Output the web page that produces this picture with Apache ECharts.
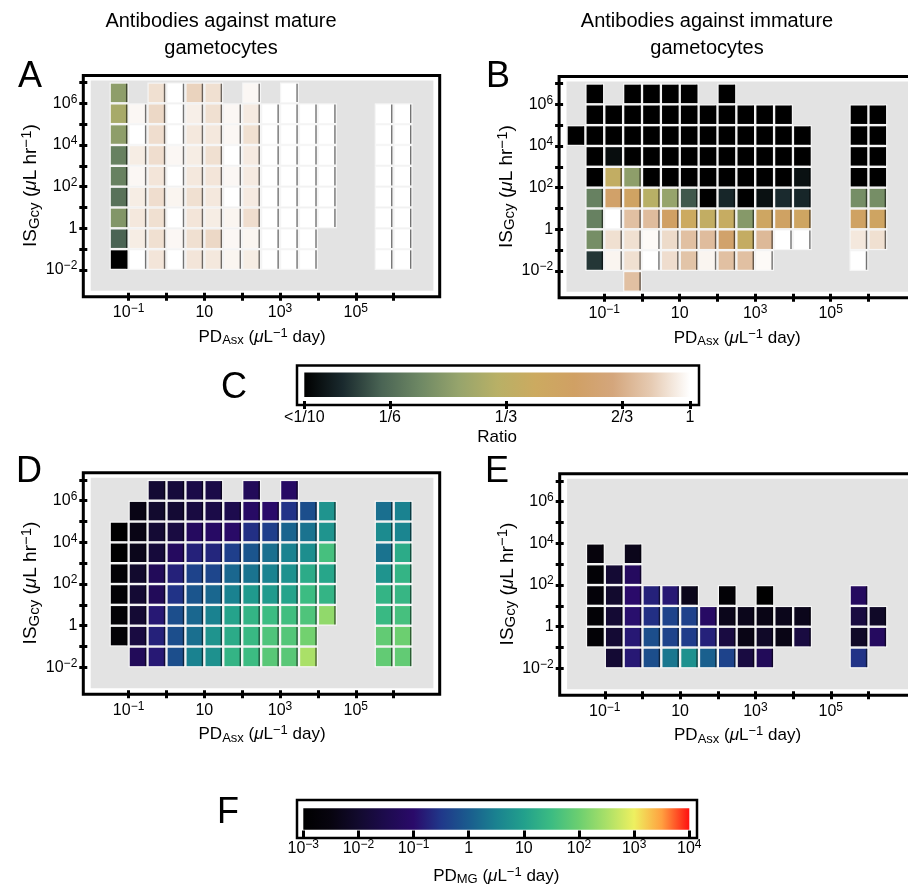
<!DOCTYPE html>
<html>
<head>
<meta charset="utf-8">
<title>Antibody heatmaps</title>
<script src="https://cdn.jsdelivr.net/npm/echarts@6/dist/echarts.min.js"></script>
<style>
  html, body { margin: 0; padding: 0; background: #fff; }
  #chart { width: 908px; height: 887px; }
</style>
</head>
<body>
<div id="chart"></div>
<script>
const _ = null;

// column centres: log10 PD_Asx, half-decade bins
const logPD = [-1.75, -1.25, -0.75, -0.25, 0.25, 0.75, 1.25, 1.75, 2.25, 2.75, 3.25, 3.75, 4.25, 4.75, 5.25, 5.75, 6.25];
// row centres: log10 IS_Gcy, top row first
const logIS = [6.5, 5.5, 4.5, 3.5, 2.5, 1.5, 0.5, -0.5, -1.5, -2.5];

// A: log10 ratio, antibodies against mature gametocytes
const ratioMature = [
  [_, -0.62, _, -0.06, 0, -0.085, -0.06, _, -0.015, _, 0, _, _, _, _, _, _],
  [_, -0.55, -0.015, -0.075, 0, -0.03, -0.06, -0.015, -0.04, 0, 0, 0, 0, _, _, 0, 0],
  [_, -0.62, 0, -0.065, 0, -0.045, -0.045, -0.015, -0.06, 0, 0, 0, 0, _, _, 0, 0],
  [_, -0.72, -0.035, -0.065, -0.015, -0.035, -0.06, 0, -0.04, 0, 0, 0, 0, _, _, 0, 0],
  [_, -0.72, -0.015, -0.05, 0, -0.045, -0.05, -0.015, -0.04, 0, 0, 0, 0, _, _, 0, 0],
  [_, -0.76, -0.035, -0.065, -0.02, -0.06, -0.045, 0, -0.04, 0, 0, 0, 0, _, _, 0, 0],
  [_, -0.65, -0.045, -0.06, 0, -0.05, -0.035, -0.02, -0.065, 0, 0, 0, 0, _, _, 0, 0],
  [_, -0.80, -0.035, -0.06, -0.015, -0.06, -0.075, -0.015, -0.02, 0, 0, 0, _, _, _, 0, 0],
  [_, -1.00, 0, -0.05, 0, -0.05, -0.045, -0.02, -0.035, 0, 0, 0, _, _, _, 0, 0],
  [_, _, _, _, _, _, _, _, _, _, _, _, _, _, _, _, _]
];

// B: log10 ratio, antibodies against immature gametocytes
const ratioImmature = [
  [_, -1, _, -1, -1, -1, -1, _, -1, _, _, _, _, _, _, _, _],
  [_, -1, -1, -1, -1, -1, -1, -1, -1, -1, -1, -1, _, _, _, -1, -1],
  [-1, -1, -1, -1, -1, -1, -1, -1, -1, -1, -1, -1, -1, _, _, -1, -1],
  [_, -1, -0.97, -1, -1, -1, -1, -1, -1, -1, -1, -1, -1, _, _, -1, -1],
  [_, -1, -0.45, -0.62, -1, -1, -1, -1, -1, -1, -1, -1, -0.96, _, _, -1, -1],
  [_, -0.72, -0.28, -0.33, -0.5, -0.6, -0.82, -1, -0.91, -1, -0.96, -0.9, -0.91, _, _, -0.68, -0.68],
  [_, -0.72, 0, -0.13, -0.14, -0.3, -0.4, -0.45, -0.43, -0.64, -0.36, -0.32, -0.35, _, _, -0.32, -0.34],
  [_, -0.68, -0.06, -0.06, -0.01, -0.07, -0.13, -0.14, -0.27, -0.44, -0.15, 0, 0, _, _, -0.045, -0.06],
  [_, -0.88, -0.02, -0.06, 0, -0.065, -0.12, -0.02, -0.13, -0.13, -0.01, _, _, _, _, 0, _],
  [_, _, _, -0.13, _, _, _, _, _, _, _, _, _, _, _, _, _]
];

// D: log10 PD_MG, antibodies against mature gametocytes
const pdMature = [
  [_, _, _, -1.9, -1.8, -1.6, -1.6, _, -1.3, _, -1.1, _, _, _, _, _, _],
  [_, _, -2.4, -2.0, -1.9, -1.7, -1.6, -1.5, -1.1, -1.0, -0.55, -0.2, 0.8, _, _, 0.25, 0.5],
  [_, -3, -2.4, -1.9, -1.7, -1.2, -1.1, -1.05, -0.6, -0.4, 0.1, 0.3, 0.8, _, _, 0.65, 0.55],
  [_, -3, -2.3, -1.8, -1.2, -0.75, -0.7, -0.4, -0.1, 0.25, 0.5, 0.7, 1.6, _, _, 0.3, 1.2],
  [_, -2.8, -2.0, -1.3, -0.75, -0.35, -0.3, 0.15, 0.3, 0.5, 0.75, 1.2, 1.1, _, _, 0.8, 1.35],
  [_, -2.8, -1.9, -1.3, -0.55, -0.1, 0.15, 0.5, 0.9, 0.9, 1.05, 1.5, 1.35, _, _, 1.35, 1.4],
  [_, -2.8, -1.9, -0.85, -0.2, 0.15, 0.5, 1.05, 1.35, 1.5, 1.55, 1.7, 2.3, _, _, 1.45, 1.6],
  [_, -2.8, -1.7, -0.75, -0.2, 0.25, 0.8, 1.2, 1.45, 1.7, 1.75, 2.05, _, _, _, 1.9, 2.0],
  [_, _, -1.3, -0.85, -0.2, 0.5, 0.75, 1.35, 1.5, 1.8, 1.8, 2.5, _, _, _, 1.9, 1.9],
  [_, _, _, _, _, _, _, _, _, _, _, _, _, _, _, _, _]
];

// E: log10 PD_MG, antibodies against immature gametocytes
const pdImmature = [
  [_, _, _, _, _, _, _, _, _, _, _, _, _, _, _, _, _],
  [_, _, _, _, _, _, _, _, _, _, _, _, _, _, _, _, _],
  [_, _, _, _, _, _, _, _, _, _, _, _, _, _, _, _, _],
  [_, -2.6, _, -2.3, _, _, _, _, _, _, _, _, _, _, _, _, _],
  [_, -2.8, -1.9, -1.2, _, _, _, _, _, _, _, _, _, _, _, _, _],
  [_, -2.7, -2.0, -1.0, -0.75, -0.85, -2.3, _, -2.8, _, -3, _, _, _, _, -1.2, _],
  [_, -2.8, -1.9, -0.95, -0.6, -0.35, -0.38, -1.1, -2.3, -2.3, -2.4, -2.3, -2.3, _, _, -1.7, -2.1],
  [_, -2.8, -1.9, -0.85, -0.2, -0.35, -0.45, -0.75, -1.7, -2.4, -2.1, -2.4, -1.7, _, _, -2.1, -1.2],
  [_, _, -1.9, -0.85, -0.2, 0.35, 0.75, 0.05, -0.35, -1.7, -1.3, _, _, _, _, -0.55, _],
  [_, _, _, _, _, _, _, _, _, _, _, _, _, _, _, _, _]
];

// colour scales
const ratioDomain = [-1, 0];
const ratioColors = ['#000000', '#1a2a2e', '#4a6454', '#6e8864', '#96a46c', '#b8b066',
                     '#ccaa60', '#d0a064', '#d4a67c', '#e6cbb3', '#ffffff'];
const pdDomain = [-3, 4];
const pdColors = ['#000000', '#07040f', '#120a2e', '#1d0b4e', '#2a0a6a', '#20388a', '#1a5c8e',
                  '#1a8290', '#22a08c', '#3cbc82', '#6ccf70', '#aae068', '#eef060', '#ffa040', '#ff1010'];

// ticks
const xTicks = [-1, 0, 1, 2, 3, 4, 5, 6];
const xLabels = [-1, 1, 3, 5];
const yTicks = [-2, -1, 0, 1, 2, 3, 4, 5, 6, 7];
const yLabels = [-2, 0, 2, 4, 6];
const ratioTicks = [0.1, 1 / 6, 1 / 3, 2 / 3, 1];
const ratioTickLabels = ['<1/10', '1/6', '1/3', '2/3', '1'];
const pdTicks = [-3, -2, -1, 0, 1, 2, 3, 4];

const FONT = '"Liberation Sans", Arial, Helvetica, sans-serif';
const rich = {
  n: { fontSize: 16, fontFamily: FONT, color: '#000', lineHeight: 20 },
  sup: { fontSize: 12, fontFamily: FONT, color: '#000', padding: [0, 0, 8, 0] }
};
// axis titles are set a little larger
function nameRich (size) {
  return {
    n: { fontSize: size, fontFamily: FONT, color: '#000', lineHeight: 20 },
    i: { fontSize: size, fontFamily: FONT, color: '#000', fontStyle: 'italic', lineHeight: 20 },
    sup: { fontSize: size - 4, fontFamily: FONT, color: '#000', padding: [0, 0, 8, 0] },
    sub: { fontSize: size - 4, fontFamily: FONT, color: '#000', padding: [7, 0, 0, 0] }
  };
}

function powLabel (v) {
  const e = Math.round(v);
  if (e === 0) return '{n|1}';
  if (e === 1) return '{n|10}';
  return '{n|10}{sup|' + (e < 0 ? '\u2212' + (-e) : e) + '}';
}

function toCells (matrix) {
  const out = [];
  matrix.forEach((row, r) => row.forEach((v, c) => {
    if (v !== null) out.push([logPD[c], logIS[r], v]);
  }));
  return out;
}

// panel layout (pixels)
const W = 342.7, H = 210.4;
const panels = [
  { left: 90.7, top: 80.4, data: ratioMature },
  { left: 566.5, top: 81.4, data: ratioImmature },
  { left: 90.7, top: 477.8, data: pdMature },
  { left: 567.1, top: 478.8, data: pdImmature }
];

function renderCell (params, api) {
  const x = api.value(0), y = api.value(1);
  const p0 = api.coord([x - 0.25, y + 0.5]);
  const p1 = api.coord([x + 0.25, y - 0.5]);
  const w = p1[0] - p0[0], h = p1[1] - p0[1];
  const g = 1.2;
  return {
    type: 'group',
    children: [
      { type: 'rect', shape: { x: p0[0], y: p0[1], width: w, height: h }, style: { fill: '#f6f6f6' } },
      { type: 'rect', shape: { x: p0[0] + g, y: p0[1] + g, width: w - 2 * g, height: h - 2 * g }, style: { fill: api.visual('color') } },
      { type: 'rect', shape: { x: p0[0] + w - g - 1.4, y: p0[1] + g, width: 1.4, height: h - 2 * g }, style: { fill: 'rgba(0,0,0,0.55)' } }
    ]
  };
}

function gradientBar (colors) {
  const stops = colors.map((c, i) => ({ offset: i / (colors.length - 1), color: c }));
  return function (params, api) {
    const p0 = api.coord([api.value(0), 1]);
    const p1 = api.coord([api.value(1), 0]);
    return {
      type: 'rect',
      shape: { x: p0[0], y: p0[1], width: p1[0] - p0[0], height: p1[1] - p0[1] },
      style: { fill: new echarts.graphic.LinearGradient(0, 0, 1, 0, stops) }
    };
  };
}

const grid = [], xAxis = [], yAxis = [], series = [], graphic = [];

panels.forEach((p, k) => {
  grid.push({ left: p.left, top: p.top, width: W, height: H, show: true, backgroundColor: '#e3e3e3', borderWidth: 0 });
  xAxis.push({
    gridIndex: k, type: 'value', min: -2, max: 7.05, offset: 2, position: 'bottom',
    axisLine: { show: false, onZero: false },
    axisTick: { show: true, customValues: xTicks, length: 8, lineStyle: { color: '#000', width: 3 } },
    axisLabel: { customValues: xLabels, formatter: powLabel, margin: 10, rich: rich },
    splitLine: { show: false },
    name: '{n|PD}{sub|Asx}{n| (}{i|\u03bc}{n|L}{sup|\u22121}{n| day)}',
    nameLocation: 'middle', nameGap: 34, nameTextStyle: { rich: nameRich(17) }
  });
  yAxis.push({
    gridIndex: k, type: 'value', min: -3, max: 7.1, offset: 3.4, position: 'left',
    axisLine: { show: false, onZero: false },
    axisTick: { show: true, customValues: yTicks, length: 8, lineStyle: { color: '#000', width: 3 } },
    axisLabel: { customValues: yLabels, formatter: powLabel, margin: 10, rich: rich },
    splitLine: { show: false },
    name: '{n|IS}{sub|Gcy}{n| (}{i|\u03bc}{n|L hr}{sup|\u22121}{n|)}',
    nameLocation: 'middle', nameGap: 39, nameRotate: 90, nameTextStyle: { rich: nameRich(19) }
  });
  series.push({
    type: 'custom', coordinateSystem: 'cartesian2d', xAxisIndex: k, yAxisIndex: k,
    renderItem: renderCell, data: toCells(p.data), silent: true
  });
  graphic.push({
    type: 'rect', silent: true, z: 100,
    shape: { x: p.left - 7.4, y: p.top - 5, width: W + 13.7, height: H + 11 },
    style: { fill: 'none', stroke: '#000', lineWidth: 3 }
  });
});

// colour bars C and F
grid.push({ left: 304.3, top: 372.5, width: 385.7, height: 24.5 });
grid.push({ left: 303.3, top: 808.3, width: 386, height: 25 });
xAxis.push({
  gridIndex: 4, type: 'value', min: ratioDomain[0], max: ratioDomain[1], offset: 4, position: 'bottom',
  axisLine: { show: false, onZero: false },
  axisTick: { show: true, customValues: ratioTicks.map(Math.log10), length: 8, lineStyle: { color: '#000', width: 3 } },
  axisLabel: {
    customValues: ratioTicks.map(Math.log10), margin: 9, fontSize: 16, fontFamily: FONT, color: '#000',
    formatter: function (v) {
      let best = 0;
      ratioTicks.forEach((t, i) => { if (Math.abs(Math.log10(t) - v) < Math.abs(Math.log10(ratioTicks[best]) - v)) best = i; });
      return ratioTickLabels[best];
    }
  },
  splitLine: { show: false },
  name: 'Ratio', nameLocation: 'middle', nameGap: 28,
  nameTextStyle: { fontSize: 17, fontFamily: FONT, color: '#000' }
});
xAxis.push({
  gridIndex: 5, type: 'value', min: pdDomain[0], max: pdDomain[1], offset: 0.7, position: 'bottom',
  axisLine: { show: false, onZero: false },
  axisTick: { show: true, customValues: pdTicks, length: 8, lineStyle: { color: '#000', width: 3 } },
  axisLabel: { customValues: pdTicks, formatter: powLabel, margin: 8, rich: rich },
  splitLine: { show: false },
  name: '{n|PD}{sub|MG}{n| (}{i|\u03bc}{n|L}{sup|\u22121}{n| day)}',
  nameLocation: 'middle', nameGap: 35, nameTextStyle: { rich: nameRich(17) }
});
[4, 5].forEach(k => yAxis.push({ gridIndex: k, type: 'value', min: 0, max: 1, show: false }));
series.push({
  type: 'custom', coordinateSystem: 'cartesian2d', xAxisIndex: 4, yAxisIndex: 4,
  renderItem: gradientBar(ratioColors), data: [ratioDomain], silent: true
});
series.push({
  type: 'custom', coordinateSystem: 'cartesian2d', xAxisIndex: 5, yAxisIndex: 5,
  renderItem: gradientBar(pdColors), data: [pdDomain], silent: true
});
graphic.push({ type: 'rect', silent: true, z: 100, shape: { x: 297, y: 365.5, width: 402, height: 39.5 }, style: { fill: 'none', stroke: '#000', lineWidth: 2.5 } });
graphic.push({ type: 'rect', silent: true, z: 100, shape: { x: 297, y: 800, width: 400, height: 38 }, style: { fill: 'none', stroke: '#000', lineWidth: 2.5 } });

// panel letters and titles
[['A', 30, 77], ['B', 498, 77], ['C', 234, 388], ['D', 29, 472], ['E', 497, 472], ['F', 228, 813]].forEach(t => {
  graphic.push({ type: 'text', x: t[1], y: t[2], silent: true,
    style: { text: t[0], fontSize: 36, fontFamily: FONT, fill: '#000', textAlign: 'center', textVerticalAlign: 'middle' } });
});
[['Antibodies against mature', 221, 21], ['gametocytes', 221, 48],
 ['Antibodies against immature', 707, 21], ['gametocytes', 707, 48]].forEach(t => {
  graphic.push({ type: 'text', x: t[1], y: t[2], silent: true,
    style: { text: t[0], fontSize: 20, fontFamily: FONT, fill: '#000', textAlign: 'center', textVerticalAlign: 'middle' } });
});

const chart = echarts.init(document.getElementById('chart'), null, { renderer: 'canvas' });
chart.setOption({
  animation: false,
  backgroundColor: '#fff',
  textStyle: { fontFamily: FONT, color: '#000' },
  grid: grid,
  xAxis: xAxis,
  yAxis: yAxis,
  visualMap: [
    { type: 'continuous', show: false, seriesIndex: [0, 1], dimension: 2, min: ratioDomain[0], max: ratioDomain[1], inRange: { color: ratioColors } },
    { type: 'continuous', show: false, seriesIndex: [2, 3], dimension: 2, min: pdDomain[0], max: pdDomain[1], inRange: { color: pdColors } }
  ],
  series: series,
  graphic: graphic
});
</script>
</body>
</html>
